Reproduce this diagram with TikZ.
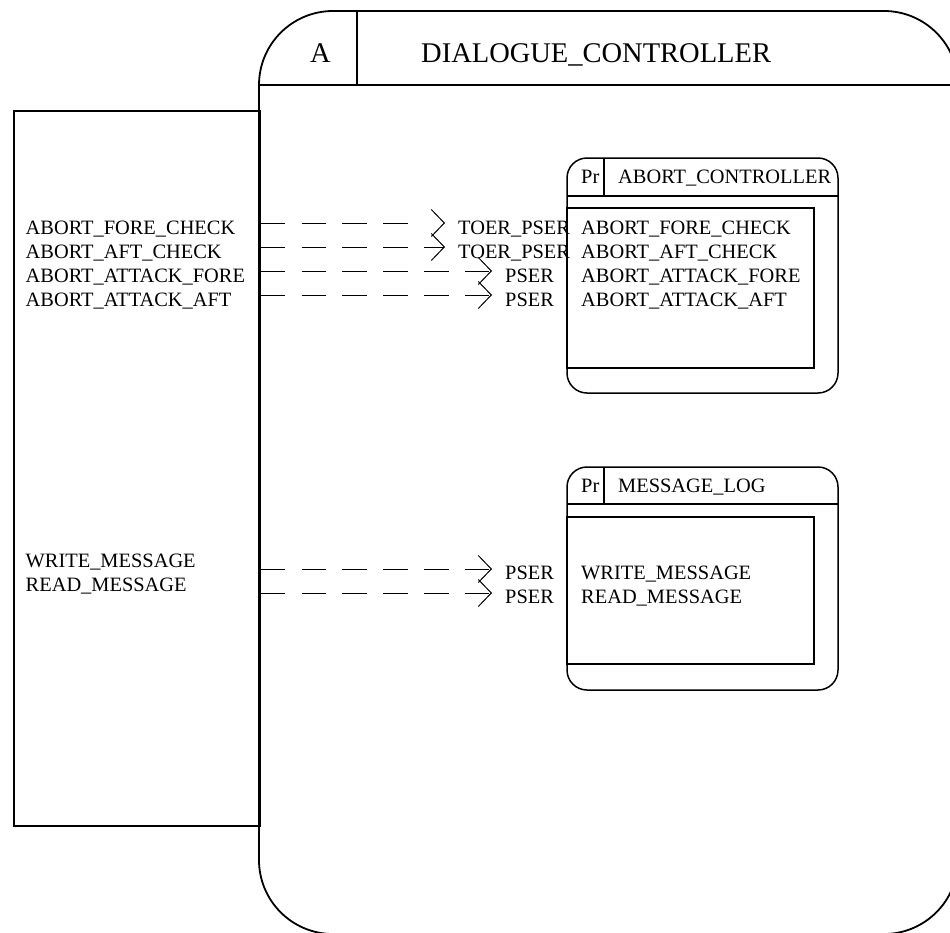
\documentclass[tikz,border=0pt]{standalone}
\usepackage{fontspec}
\setmainfont{Liberation Serif}
\usetikzlibrary{arrows.meta}
\begin{document}
\begin{tikzpicture}[x=1pt,y=-1pt,
  frame/.style={draw=black, line width=1.8pt},
  thin/.style={draw=black, line width=1.5pt},
  lbl/.style={anchor=base west, inner sep=0pt, font=\fontsize{20.4}{24}\selectfont},
  title/.style={anchor=base west, inner sep=0pt, font=\fontsize{28.5}{34}\selectfont},
  flow/.style={draw=black, line width=1pt, dash pattern=on 24.5pt off 16.3pt,
    -{Straight Barb[length=13pt,width=27pt,line width=1pt]}}]
\useasboundingbox (0,0) rectangle (950,932);
\clip (0,0) rectangle (950,932);

% activity frame DIALOGUE_CONTROLLER
\draw[frame, rounded corners=74pt] (259,11) rectangle (958,934);
\draw[frame] (259,85) -- (958,85);
\draw[frame] (357,11) -- (357,85);
\node[title] (hA) at (310,62) {A};
\node[title] (hname) at (421,62) {DIALOGUE\_CONTROLLER};

% external interface box
\node[frame, anchor=north west, inner sep=0pt, minimum width=246pt, minimum height=715pt]
  (lbox) at (13,110) {};
\node[lbl] (l1) at (25.5,234) {ABORT\_FORE\_CHECK};
\node[lbl] (l2) at (25.5,258) {ABORT\_AFT\_CHECK};
\node[lbl] (l3) at (25.5,282) {ABORT\_ATTACK\_FORE};
\node[lbl] (l4) at (25.5,306) {ABORT\_ATTACK\_AFT};
\node[lbl] (l5) at (25.5,567) {WRITE\_MESSAGE};
\node[lbl] (l6) at (25.5,591) {READ\_MESSAGE};

% process ABORT_CONTROLLER
\draw[thin, rounded corners=20pt] (567,158) rectangle (838,393);
\draw[thin] (567,196) -- (838,196);
\draw[thin] (604,158) -- (604,196);
\draw[thin] (567,208) rectangle (814,368);
\node[lbl] (p1) at (581,183.5) {Pr};
\node[lbl] (p1name) at (618,183.5) {ABORT\_CONTROLLER};
\node[lbl] (r1) at (581,234) {ABORT\_FORE\_CHECK};
\node[lbl] (r2) at (581,258) {ABORT\_AFT\_CHECK};
\node[lbl] (r3) at (581,282) {ABORT\_ATTACK\_FORE};
\node[lbl] (r4) at (581,306) {ABORT\_ATTACK\_AFT};

% process MESSAGE_LOG
\draw[thin, rounded corners=20pt] (567,467) rectangle (838,690);
\draw[thin] (567,504) -- (838,504);
\draw[thin] (604,467) -- (604,504);
\draw[thin] (567,517) rectangle (814,664);
\node[lbl] (p2) at (581,492.5) {Pr};
\node[lbl] (p2name) at (618,492.5) {MESSAGE\_LOG};
\node[lbl] (r5) at (581,579.5) {WRITE\_MESSAGE};
\node[lbl] (r6) at (581,603.5) {READ\_MESSAGE};

% call kinds
\node[lbl] (k1) at (458,234) {TOER\_PSER};
\node[lbl] (k2) at (458,258) {TOER\_PSER};
\node[lbl] (k3) at (505,282) {PSER};
\node[lbl] (k4) at (505,306) {PSER};
\node[lbl] (k5) at (505,579.5) {PSER};
\node[lbl] (k6) at (505,603.5) {PSER};

% arrow tips
\coordinate (t1) at (445,223);
\coordinate (t2) at (445,247);
\coordinate (t3) at (492,271);
\coordinate (t4) at (492,295);
\coordinate (t5) at (492,569);
\coordinate (t6) at (492,593);

% calls
\draw[flow, dash pattern=on 24.5pt off 16.3pt on 24.5pt off 16.3pt on 24.5pt off 16.3pt on 24.5pt off 80pt]
  (lbox.east |- t1) -- (t1);
\draw[flow] (lbox.east |- t2) -- (t2);
\draw[flow] (lbox.east |- t3) -- (t3);
\draw[flow] (lbox.east |- t4) -- (t4);
\draw[flow] (lbox.east |- t5) -- (t5);
\draw[flow] (lbox.east |- t6) -- (t6);
\end{tikzpicture}
\end{document}
